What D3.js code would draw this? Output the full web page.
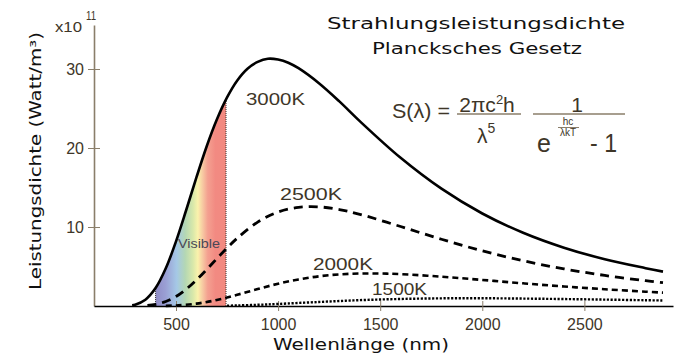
<!DOCTYPE html>
<html><head><meta charset="utf-8">
<script src="https://cdn.jsdelivr.net/npm/d3@7"></script>
<style>
html,body{margin:0;padding:0;background:#fff;}
svg{display:block;}
</style></head>
<body>
<script>
// ---- data (values in 10^11 W/m^3, wavelength in nm) ----
const lambda3000 = [285,300,350,400,450,500,550,600,650,700,750,800,850,900,950,1000,1050,1100,1200,1300,1400,1600,1800,2000,2200,2400,2600,2800,2885];
const s3000      = [0.1,0.17,0.8,2.27,4.77,8.18,12.15,16.27,20.19,23.6,26.4,28.55,30.04,30.9,31.3,31.2,30.8,30.1,28.2,25.9,23.4,18.76,14.85,11.71,9.27,7.38,5.92,4.79,4.35];
const lambda2500 = [360,400,450,500,550,600,650,700,750,800,900,1000,1100,1200,1300,1400,1600,1800,2000,2200,2400,2600,2800,2885];
const s2500      = [0.07,0.21,0.57,1.2,2.13,3.29,4.61,5.99,7.34,8.59,10.62,11.9,12.49,12.55,12.2,11.61,10.06,8.45,6.98,5.73,4.7,3.87,3.2,2.95];
const lambda2000 = [450,500,600,700,800,900,1000,1100,1200,1300,1400,1500,1600,1800,2000,2200,2400,2600,2800,2885];
const s2000      = [0.02,0.07,0.3,0.76,1.42,2.14,2.82,3.36,3.76,4.0,4.11,4.11,4.03,3.71,3.3,2.87,2.47,2.12,1.81,1.69];
const lambda1500 = [750,800,900,1000,1200,1400,1600,1800,2000,2200,2400,2600,2800,2885];
const s1500      = [0.04,0.07,0.15,0.26,0.51,0.74,0.89,0.97,0.98,0.94,0.88,0.81,0.73,0.70];
const curveNames = ["3000K","2500K","2000K","1500K"];
const xTicks = [500,1000,1500,2000,2500];
const yTicks = [10,20,30];
const visibleRange = [400,745];

const W = 679, H = 356;
const svg = d3.select("body").append("svg").attr("width",W).attr("height",H);

const x = d3.scaleLinear().domain([98.4,2934]).range([94,673]);
const y = d3.scaleLinear().domain([0,35.57]).range([306,25]);

const toPts = (ls, vs) => ls.map((l,i)=>[l,vs[i]]);
const series = [
  {name:"3000K", pts:toPts(lambda3000,s3000), dash:null, w:2.6},
  {name:"2500K", pts:toPts(lambda2500,s2500), dash:"9,6", w:2.8},
  {name:"2000K", pts:toPts(lambda2000,s2000), dash:"6,4", w:2.6},
  {name:"1500K", pts:toPts(lambda1500,s1500), dash:"2.2,1.6", w:2.4}
];

const line = d3.line().x(d=>x(d[0])).y(d=>y(d[1])).curve(d3.curveCatmullRom.alpha(0.5));
const area = d3.area().x(d=>x(d[0])).y0(y(0)).y1(d=>y(d[1])).curve(d3.curveCatmullRom.alpha(0.5));

// visible spectrum band
const defs = svg.append("defs");
const grad = defs.append("linearGradient").attr("id","spec")
  .attr("gradientUnits","userSpaceOnUse")
  .attr("x1",x(visibleRange[0])).attr("x2",x(visibleRange[1])).attr("y1",0).attr("y2",0);
[[0,"#908cc6"],[0.14,"#9a9fd4"],[0.3,"#a5c8e6"],[0.42,"#b4d7b4"],[0.53,"#d8e8aa"],[0.6,"#faf2ac"],[0.67,"#f7c8a2"],[0.74,"#f4a090"],[0.85,"#f28a82"],[1,"#f28a80"]]
  .forEach(s=>grad.append("stop").attr("offset",s[0]).attr("stop-color",s[1]));
defs.append("clipPath").attr("id","under").append("path").attr("d",area(series[0].pts));

const band = svg.append("g").attr("clip-path","url(#under)");
band.append("rect").attr("x",x(visibleRange[0])).attr("width",x(visibleRange[1])-x(visibleRange[0]))
  .attr("y",y(35)).attr("height",y(0)-y(35)).attr("fill","url(#spec)");
visibleRange.forEach(v=>band.append("line").attr("x1",x(v)).attr("x2",x(v)).attr("y1",y(0)).attr("y2",y(35))
  .attr("stroke","#333").attr("stroke-width",1).attr("stroke-dasharray","1,1"));

// axes
const axCol = "#8a7e6a", txtCol = "#3e3628";
const gy = svg.append("g").attr("transform",`translate(${x(98.4)},0)`)
  .call(d3.axisLeft(y).tickValues(yTicks).tickSizeInner(6).tickSizeOuter(0).tickPadding(4).tickFormat(d3.format("d")));
gy.select(".domain").attr("stroke",axCol).attr("stroke-width",1.6);
gy.selectAll(".tick line").attr("stroke",axCol).attr("x1",6).attr("stroke-width",1);
gy.selectAll(".tick text").attr("fill",txtCol).attr("font-family","Liberation Sans, Arial, sans-serif").attr("font-size",16);

const gx = svg.append("g").attr("transform",`translate(0,${y(0)})`)
  .call(d3.axisBottom(x).tickValues(xTicks).tickSizeInner(5).tickSizeOuter(0).tickPadding(8).tickFormat(d3.format("d")));
gx.select(".domain").attr("stroke","#000").attr("stroke-width",1.5);
gx.selectAll(".tick line").attr("stroke",axCol).attr("y1",-5).attr("stroke-width",1);
gx.selectAll(".tick text").attr("fill",txtCol).attr("font-family","Liberation Sans, Arial, sans-serif").attr("font-size",16);

// curves
series.forEach(s=>{
  svg.append("path").attr("d",line(s.pts)).attr("fill","none").attr("stroke","#000")
    .attr("stroke-width",s.w).attr("stroke-dasharray",s.dash);
});

// labels
const lab = (t,x0,yb,size,len,fill,fam,anchor) => {
  const el = svg.append("text").attr("x",x0).attr("y",yb).attr("font-size",size)
    .attr("font-family",fam||"Liberation Sans, Arial, sans-serif").attr("fill",fill||txtCol)
    .attr("text-anchor",anchor||"start").text(t);
  if(len) el.attr("textLength",len).attr("lengthAdjust","spacingAndGlyphs");
  return el;
};
lab(curveNames[0],246,105,17,59);
lab(curveNames[1],280,200,17,62);
lab(curveNames[2],313,270,17,60);
lab(curveNames[3],372,295,17,55);
lab("Visible",178,248,13,42,"#4a4756");

lab("x10",55,32,15,27);
lab("11",86,20,12,10);

// titles
const vfam = "DejaVu Sans, Verdana, sans-serif";
lab("Strahlungsleistungsdichte",327,29,16,298,"#111",vfam);
lab("Plancksches Gesetz",372,54,16,210,"#111",vfam);
lab("Wellenlänge (nm)",273,350,15,176,"#111",vfam);
svg.append("text").attr("transform","translate(41,161) rotate(-90)").attr("text-anchor","middle")
  .attr("font-family",vfam).attr("font-size",15).attr("fill","#111")
  .attr("textLength",258).attr("lengthAdjust","spacingAndGlyphs").text("Leistungsdichte (Watt/m³)");

// formula
const ff = "Liberation Sans, Arial, sans-serif";
lab("S(λ) =",392,118,21,58,txtCol,ff);
const num = svg.append("text").attr("x",487).attr("y",112).attr("text-anchor","middle")
  .attr("font-family",ff).attr("font-size",21).attr("fill",txtCol);
num.append("tspan").text("2πc");
num.append("tspan").attr("font-size",13).attr("dy",-8).text("2");
num.append("tspan").attr("dy",8).text("h");
svg.append("line").attr("x1",457).attr("x2",521).attr("y1",114).attr("y2",114).attr("stroke",axCol).attr("stroke-width",1.6);
const den = svg.append("text").attr("x",477).attr("y",143).attr("font-family",ff).attr("font-size",21).attr("fill",txtCol);
den.append("tspan").text("λ");
den.append("tspan").attr("font-size",14).attr("dy",-10).text("5");
lab("1",577,112,21,null,txtCol,ff,"middle");
svg.append("line").attr("x1",533).attr("x2",625).attr("y1",114).attr("y2",114).attr("stroke",axCol).attr("stroke-width",1.6);
lab("e",537,152,25,null,txtCol,ff);
lab("hc",568,125,10,null,txtCol,ff,"middle");
svg.append("line").attr("x1",558).attr("x2",579).attr("y1",127.5).attr("y2",127.5).attr("stroke",axCol).attr("stroke-width",1);
lab("λkT",568,136,10,null,txtCol,ff,"middle");
lab("- 1",590,152,25,27,txtCol,ff);
</script>
</body></html>
